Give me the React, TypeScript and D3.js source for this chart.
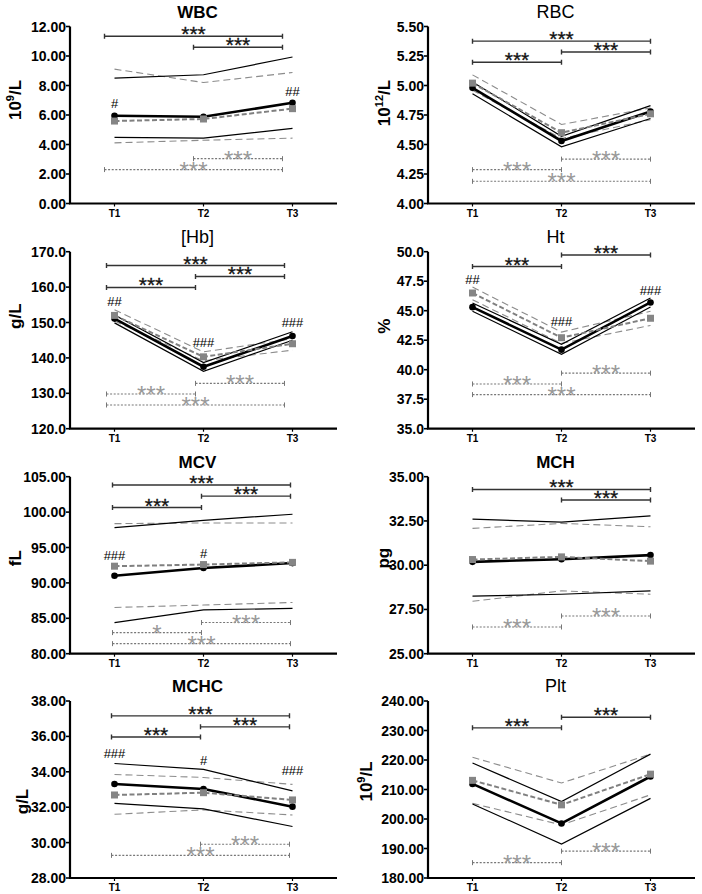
import * as d3 from 'd3';

const times = ['T1', 'T2', 'T3'];
const titles = ['WBC', 'RBC', '[Hb]', 'Ht', 'MCV', 'MCH', 'MCHC', 'Plt'];
const titleBold = [true, false, false, false, true, true, true, false];
const units = [['10', '9', '/L'], ['10', '12', '/L'], ['g/L'], ['%'], ['fL'], ['pg'], ['g/L'], ['10', '9', '/L']];
const yDomains = [[0, 12], [4, 5.5], [120, 170], [35, 50], [80, 105], [25, 35], [28, 38], [180, 240]];
const yStep = [2, 0.25, 10, 2.5, 5, 2.5, 2, 10];
const yDecimals = [2, 2, 1, 1, 2, 2, 2, 2];

// black = group A (solid), gray = group B (dashed); mean with upper/lower band
const blackMean = [
  [5.95, 5.88, 6.83],
  [4.98, 4.53, 4.78],
  [151.1, 137.5, 146.2],
  [45.3, 41.7, 45.7],
  [91.0, 92.1, 92.8],
  [30.19, 30.34, 30.57],
  [33.31, 33.03, 32.03],
  [211.9, 198.5, 214.4],
];
const blackHigh = [
  [8.5, 8.73, 9.93],
  [5.03, 4.57, 4.83],
  [152.1, 138.7, 147.4],
  [45.65, 42.15, 46.07],
  [97.8, 98.84, 99.7],
  [32.6, 32.43, 32.79],
  [34.47, 34.14, 32.92],
  [219.0, 205.9, 222.0],
];
const blackLow = [
  [4.48, 4.43, 5.09],
  [4.93, 4.48, 4.72],
  [149.9, 136.2, 145.0],
  [44.95, 41.31, 45.32],
  [84.4, 86.2, 86.39],
  [28.25, 28.36, 28.55],
  [32.22, 31.9, 30.91],
  [205.1, 191.5, 207.0],
];
const grayMean = [
  [5.59, 5.73, 6.43],
  [5.02, 4.6, 4.76],
  [152.0, 140.3, 144.0],
  [46.5, 42.71, 44.36],
  [92.36, 92.59, 92.9],
  [30.32, 30.47, 30.23],
  [32.69, 32.82, 32.41],
  [213.1, 204.8, 215.2],
];
const grayHigh = [
  [9.11, 8.2, 8.88],
  [5.09, 4.67, 4.81],
  [153.6, 141.7, 145.4],
  [47.0, 43.19, 44.95],
  [98.37, 98.47, 98.47],
  [32.08, 32.36, 32.17],
  [33.85, 33.68, 33.29],
  [220.9, 212.2, 222.0],
];
const grayLow = [
  [4.11, 4.29, 4.43],
  [4.96, 4.55, 4.71],
  [150.4, 139.2, 142.2],
  [45.93, 42.23, 43.75],
  [86.53, 86.87, 87.24],
  [27.96, 28.55, 28.36],
  [31.6, 31.85, 31.56],
  [205.3, 198.0, 208.2],
];

// significance brackets: [from, to, y, label]
const sigAbove: [number, number, number, string][][] = [
  [[0, 2, 11.34, '***'], [1, 2, 10.59, '***']],
  [[0, 2, 5.376, '***'], [1, 2, 5.284, '***'], [0, 1, 5.197, '***']],
  [[0, 2, 166.1, '***'], [1, 2, 163.0, '***'], [0, 1, 159.9, '***']],
  [[1, 2, 49.72, '***'], [0, 1, 48.74, '***']],
  [[0, 2, 103.82, '***'], [1, 2, 102.25, '***'], [0, 1, 100.64, '***']],
  [[0, 2, 34.28, '***'], [1, 2, 33.68, '***']],
  [[0, 2, 37.16, '***'], [1, 2, 36.54, '***'], [0, 1, 35.97, '***']],
  [[1, 2, 234.5, '***'], [0, 1, 230.9, '***']],
];
const sigBelow: [number, number, number, string][][] = [
  [[1, 2, 3.04, '***'], [0, 2, 2.3, '***']],
  [[1, 2, 4.376, '***'], [0, 1, 4.287, '***'], [0, 2, 4.188, '***']],
  [[1, 2, 132.8, '***'], [0, 1, 129.8, '***'], [0, 2, 126.7, '***']],
  [[1, 2, 39.71, '***'], [0, 1, 38.79, '***'], [0, 2, 37.89, '***']],
  [[1, 2, 84.4, '***'], [0, 1, 82.98, '*'], [0, 2, 81.42, '***']],
  [[1, 2, 27.13, '***'], [0, 1, 26.51, '***']],
  [[1, 2, 29.91, '***'], [0, 2, 29.28, '***']],
  [[1, 2, 189.1, '***'], [0, 1, 185.2, '***']],
];
// between-group marks: [time index, y, label]
const hashMarks: [number, number, string][][] = [
  [[0, 6.75, '#'], [2, 7.57, '##']],
  [],
  [[0, 156.0, '##'], [1, 144.3, '###'], [2, 149.9, '###']],
  [[0, 47.62, '##'], [1, 44.11, '###'], [2, 46.69, '###']],
  [[0, 93.87, '###'], [1, 94.11, '#']],
  [],
  [[0, 35.04, '###'], [1, 34.62, '#'], [2, 34.1, '###']],
  [],
];

const font = "'Liberation Sans', Arial, sans-serif";
const colX = [70, 428];
const rowTop = [26.5, 251.7, 476.7, 701];
const plotW = 267;
const plotH = 177;
const bracketShift = [-10, 0, -8, 0, -2, 0, -3, 0];
const labelDx = [-55, -44, -55, -44, -55, -45, -48, -62];
const labelDy = [-15, -12, -24, -14, -7, -7, 12, -8];

function Panel({ i }: { i: number }) {
  const left = colX[i % 2];
  const top = rowTop[Math.floor(i / 2)];
  const bottom = top + plotH;
  const x = d3.scalePoint<string>().domain(times).range([left, left + plotW]).padding(0.5);
  const y = d3.scaleLinear().domain(yDomains[i]).range([bottom, top]);
  const [lo, hi] = yDomains[i];
  const ticks = d3.range(lo, hi + yStep[i] / 2, yStep[i]);
  const line = d3.line<number>().x((_, k) => x(times[k])!).y((d) => y(d));
  const sh = bracketShift[i];
  const u = units[i];
  const cx = left + plotW / 2 - 6;

  return (
    <g fontFamily={font}>
      <text x={cx} y={top - 9} textAnchor="middle" fontSize={titleBold[i] ? 17 : 18}
        fontWeight={titleBold[i] ? 'bold' : 'normal'}>{titles[i]}</text>
      <text transform={`translate(${left + labelDx[i] + 6},${top + plotH / 2 + labelDy[i]}) rotate(-90)`}
        textAnchor="middle" fontSize={17} fontWeight="bold">
        {u.length === 3 ? (
          <>
            {u[0]}
            <tspan fontSize={11} dy={-7}>{u[1]}</tspan>
            <tspan dy={7}>{u[2]}</tspan>
          </>
        ) : u[0]}
      </text>

      {/* gray group */}
      {[grayHigh[i], grayLow[i]].map((s, k) => (
        <path key={'gb' + k} d={line(s)!} fill="none" stroke="#8c8c8c" strokeWidth={1.1} strokeDasharray="7 4" />
      ))}
      {/* black group */}
      {[blackHigh[i], blackLow[i]].map((s, k) => (
        <path key={'bb' + k} d={line(s)!} fill="none" stroke="#000" strokeWidth={1.2} />
      ))}
      <path d={line(blackMean[i])!} fill="none" stroke="#000" strokeWidth={2.6} />
      <path d={line(grayMean[i])!} fill="none" stroke="#808080" strokeWidth={2} strokeDasharray="5 2.5" />
      {blackMean[i].map((v, k) => (
        <circle key={'c' + k} cx={x(times[k])} cy={y(v)} r={3.3} fill="#000" />
      ))}
      {grayMean[i].map((v, k) => (
        <rect key={'r' + k} x={x(times[k])! - 3.5} y={y(v) - 3.5} width={7} height={7} fill="#858585" />
      ))}

      {sigAbove[i].map(([a, b, v, lab], k) => {
        const x1 = x(times[a])! + sh, x2 = x(times[b])! + sh, yy = y(v);
        return (
          <g key={'sa' + k}>
            <path d={`M${x1},${yy - 2.5}V${yy + 2.5}M${x1},${yy}H${x2}M${x2},${yy - 2.5}V${yy + 2.5}`}
              stroke="#333" strokeWidth={1.4} fill="none" />
            <text x={(x1 + x2) / 2} y={yy + 5} textAnchor="middle" fontSize={21} fill="#111"
              stroke="#111" strokeWidth={0.3}>{lab}</text>
          </g>
        );
      })}
      {sigBelow[i].map(([a, b, v, lab], k) => {
        const x1 = x(times[a])! + sh, x2 = x(times[b])! + sh, yy = y(v);
        return (
          <g key={'sb' + k}>
            <path d={`M${x1},${yy - 2.5}V${yy + 2.5}M${x2},${yy - 2.5}V${yy + 2.5}`}
              stroke="#777" strokeWidth={1} fill="none" />
            <path d={`M${x1},${yy}H${x2}`} stroke="#777" strokeWidth={1.1} strokeDasharray="2 1.6" fill="none" />
            <text x={(x1 + x2) / 2} y={yy + 9} textAnchor="middle" fontSize={24} fill="#999">{lab}</text>
          </g>
        );
      })}
      {hashMarks[i].map(([t, v, lab], k) => (
        <text key={'h' + k} x={x(times[t])} y={y(v) + 4.5} textAnchor="middle" fontSize={13} fill="#000">{lab}</text>
      ))}

      {/* axes */}
      <path d={`M${left},${top}V${bottom}H${left + plotW}`} fill="none" stroke="#000" strokeWidth={2.2} />
      {ticks.map((t) => (
        <g key={'yt' + t}>
          <line x1={left - 4} x2={left} y1={y(t)} y2={y(t)} stroke="#000" strokeWidth={1.6} />
          <text x={left - 4} y={y(t) + 5} textAnchor="end" fontSize={14} fontWeight="bold">{t.toFixed(yDecimals[i])}</text>
        </g>
      ))}
      {times.map((t) => (
        <g key={'xt' + t}>
          <line x1={x(t)} x2={x(t)} y1={bottom} y2={bottom + 3} stroke="#000" strokeWidth={1.2} />
          <text x={x(t)} y={bottom + 13} textAnchor="middle" fontSize={10} fontWeight="bold">{t}</text>
        </g>
      ))}
    </g>
  );
}

export default function App() {
  return (
    <svg width={702} height={894} style={{ position: 'absolute', left: 0, top: 0, background: '#fff' }}>
      {titles.map((_, i) => <Panel key={i} i={i} />)}
    </svg>
  );
}
